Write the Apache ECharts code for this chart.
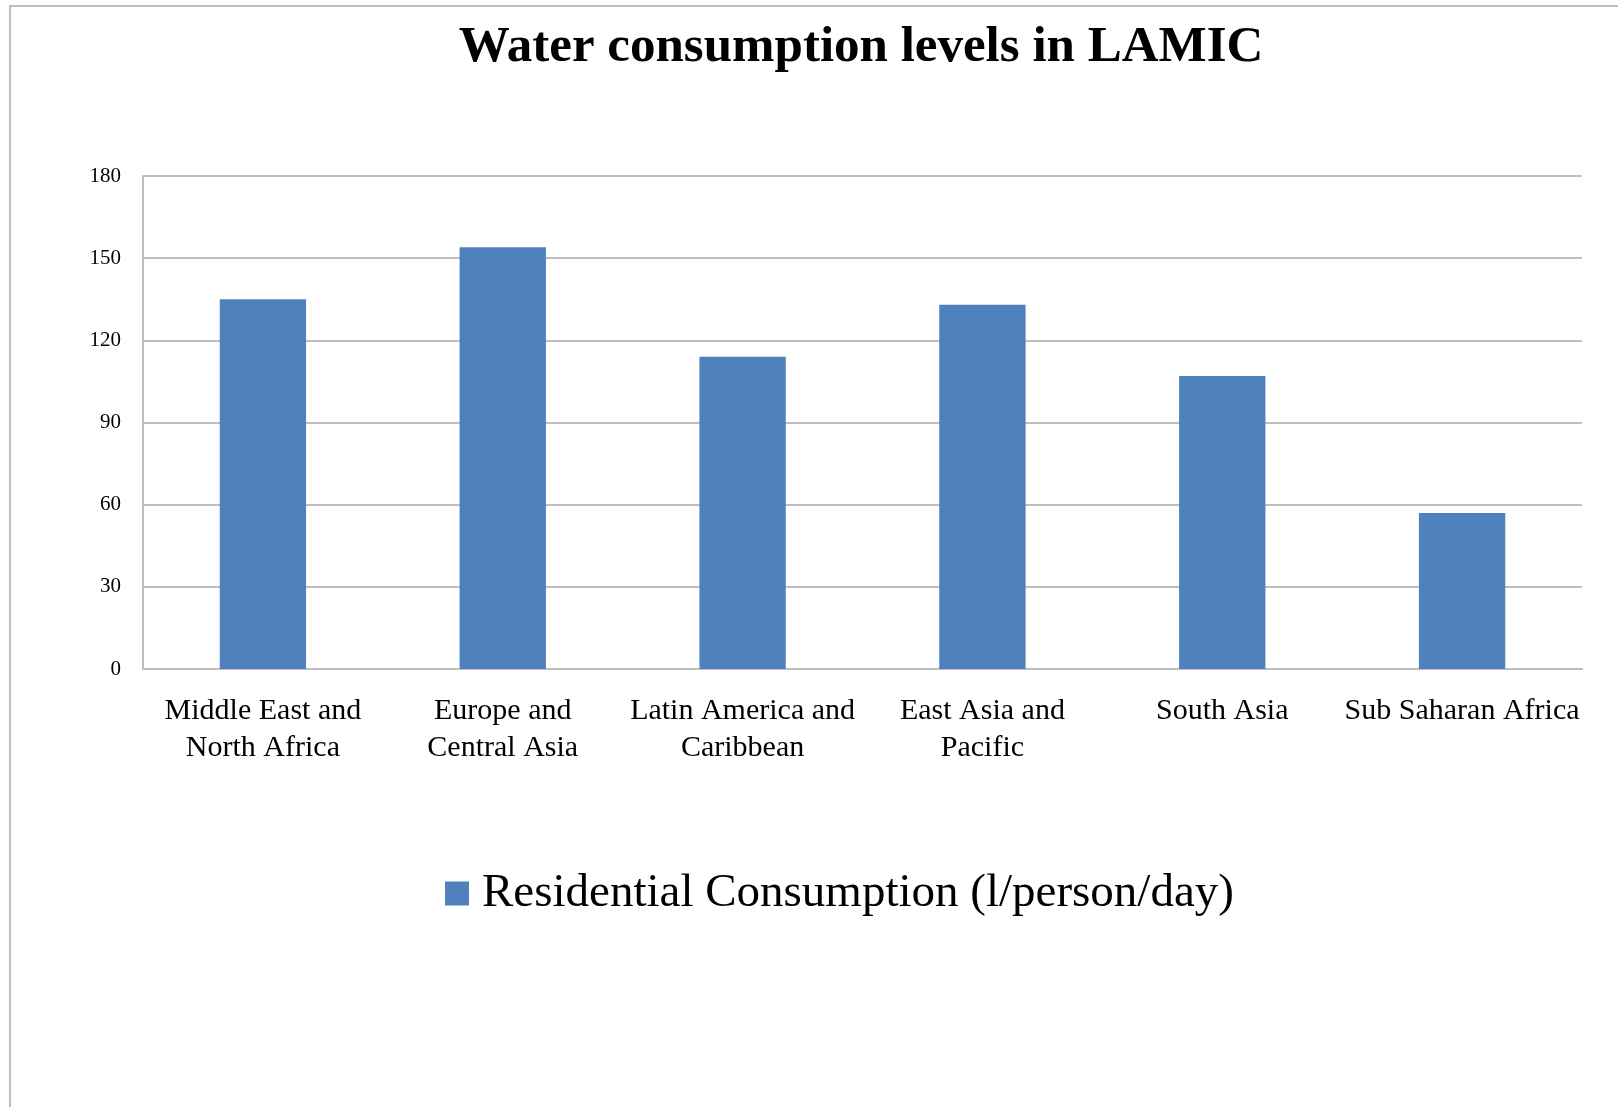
<!DOCTYPE html>
<html>
<head>
<meta charset="utf-8">
<script src="https://cdn.jsdelivr.net/npm/echarts@6/dist/echarts.min.js"></script>
<style>
  html, body { margin: 0; padding: 0; background: #fff; }
  #chart { width: 1618px; height: 1107px; }
</style>
</head>
<body>
<div id="chart"></div>
<script>
// Residential water use by region (litres per person per day)
const regions = [
  'Middle East and\nNorth Africa',
  'Europe and\nCentral Asia',
  'Latin America and\nCaribbean',
  'East Asia and\nPacific',
  'South Asia',
  'Sub Saharan Africa'
];
const residentialUse = [135, 154, 114, 133, 107, 57];
const seriesName = 'Residential Consumption (l/person/day)';
const yTicks = { min: 0, max: 180, interval: 30 };

const serif = '"Liberation Serif", "DejaVu Serif", serif';
const chart = echarts.init(document.getElementById('chart'));

chart.setOption({
  backgroundColor: '#ffffff',
  animation: false,
  title: {
    text: 'Water consumption levels in LAMIC',
    left: 856,
    textAlign: 'center',
    top: 17,
    textStyle: { fontFamily: serif, fontWeight: 'bold', fontSize: 51, color: '#000' }
  },
  legend: {
    data: [seriesName],
    left: 440,
    top: 865,
    icon: 'rect',
    itemWidth: 24,
    itemHeight: 24,
    itemGap: 10,
    textStyle: { fontFamily: serif, fontSize: 47, color: '#000', padding: [0, 0, 0, 8] }
  },
  grid: { left: 143, right: 36, top: 176, bottom: 438, containLabel: false },
  xAxis: {
    type: 'category',
    data: regions,
    axisLine: { show: true, lineStyle: { color: '#bfbfbf', width: 2 } },
    axisTick: { show: false },
    axisLabel: {
      interval: 0,
      margin: 24,
      fontFamily: serif,
      fontSize: 30,
      lineHeight: 37,
      color: '#000'
    }
  },
  yAxis: {
    type: 'value',
    min: yTicks.min,
    max: yTicks.max,
    interval: yTicks.interval,
    axisLine: { show: true, lineStyle: { color: '#bfbfbf', width: 2 } },
    axisTick: { show: false },
    splitLine: { lineStyle: { color: '#bfbfbf', width: 2 } },
    axisLabel: { margin: 22, fontFamily: serif, fontSize: 21, color: '#000' }
  },
  series: [{
    name: seriesName,
    type: 'bar',
    data: residentialUse,
    barWidth: '36%',
    itemStyle: { color: '#4f81bd' }
  }],
  graphic: [{
    type: 'polyline',
    shape: { points: [[10, 1120], [10, 6], [1630, 6]] },
    style: { stroke: '#bfbfbf', lineWidth: 2, fill: null }
  }]
});
</script>
</body>
</html>
